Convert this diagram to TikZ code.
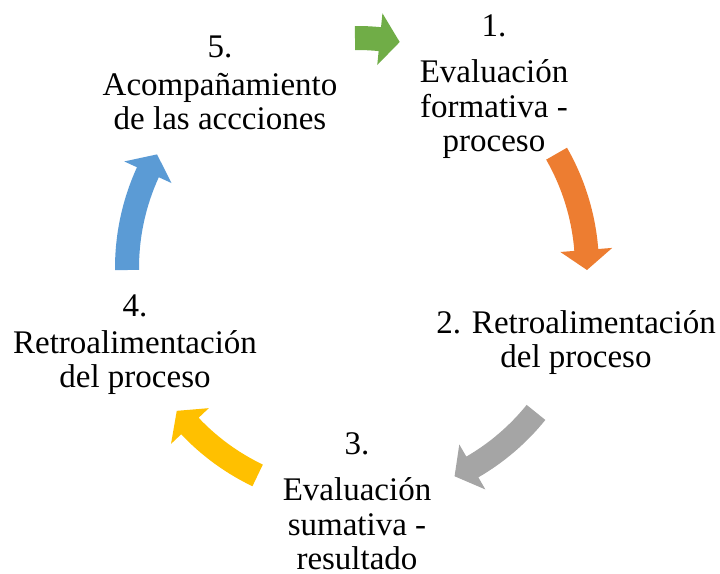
\documentclass[tikz,border=0pt]{standalone}
\usepackage{fontspec}
\setmainfont{Liberation Serif}
\usetikzlibrary{calc}
\definecolor{cgreen}{HTML}{70AD47}
\definecolor{corange}{HTML}{ED7D31}
\definecolor{cgray}{HTML}{A5A5A5}
\definecolor{cyellow}{HTML}{FFC000}
\definecolor{cblue}{HTML}{5B9BD5}
\tikzset{lbl/.style={font=\fontsize{33}{34.5}\selectfont, align=center, inner sep=0pt, anchor=base}}
% #1 colour, #2 tail angle, #3 tip angle (clockwise arrow on the cycle circle)
\newcommand{\cycarrow}[3]{%
  \pgfmathsetmacro{\hb}{#3+5}%
  \fill[#1] ($(C)+(#2:242pt)$) arc[start angle=#2, end angle=\hb, radius=242pt]
    -- ($(C)+(\hb:256pt)$) -- ($(C)+(#3:230pt)$) -- ($(C)+(\hb:204pt)$)
    -- ($(C)+(\hb:218pt)$) arc[start angle=\hb, end angle=#2, radius=218pt] -- cycle;}
\begin{document}
\begin{tikzpicture}[x=1pt,y=1pt]
\useasboundingbox (0,0) rectangle (720,573);
\coordinate (C) at (357,305);
\cycarrow{cgreen}{90.5}{79.3}
\cycarrow{corange}{29.8}{-0.5}
\cycarrow{cgray}{-38.9}{-64.9}
\cycarrow{cyellow}{-115.6}{-141.6}
\cycarrow{cblue}{180.5}{150.4}
\node[lbl] (n1) at (494,421) {1.\\[11.5pt]Evaluación\\formativa -\\proceso};
\node[lbl] (n2) at (576,205) {2. Retroalimentación\\del proceso};
\node[lbl] (n3) at (357,3.5) {3.\\[12pt]Evaluación\\sumativa -\\resultado};
\node[lbl] (n4) at (135,185) {4.\\[2.5pt]Retroalimentación\\del proceso};
\node[lbl] (n5) at (220,443) {5.\\[3pt]Acompañamiento\\de las accciones};
\end{tikzpicture}
\end{document}
